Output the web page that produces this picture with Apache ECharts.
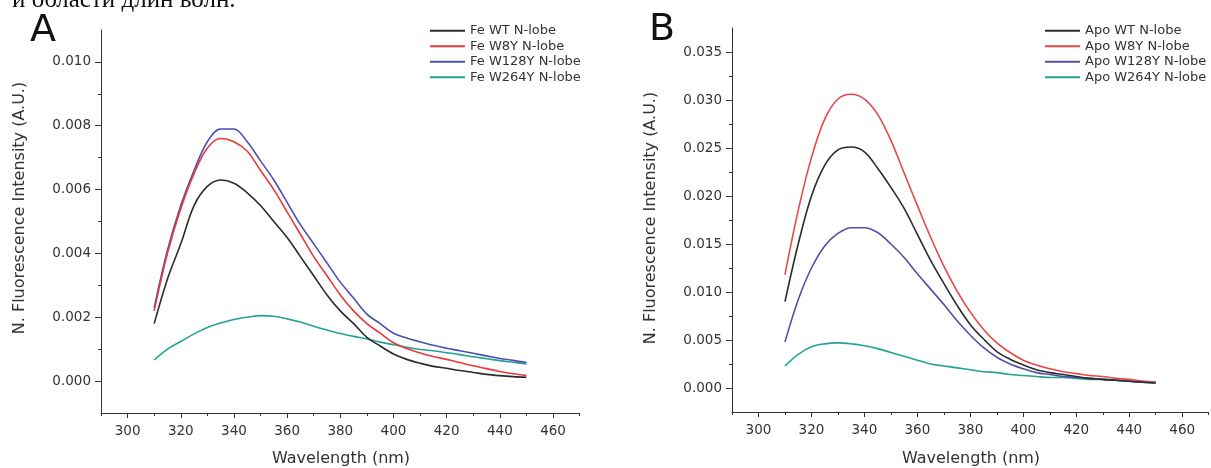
<!DOCTYPE html>
<html>
<head>
<meta charset="utf-8">
<script src="https://cdn.jsdelivr.net/npm/echarts@6/dist/echarts.min.js"></script>
<style>
html,body{margin:0;padding:0;background:#fff;}
#chart{width:1211px;height:468px;}
</style>
</head>
<body>
<div id="chart"></div>
<script>
// ---- data ----
const wavelengths = [310,315,320,325,330,335,340,345,350,355,360,365,370,375,380,385,390,395,400,405,410,415,420,425,430,435,440,445,450];

const feWT   = [0.0018,0.0032,0.0043,0.0055,0.0061,0.0063,0.0062,0.0059,0.0055,0.0050,0.0045,0.0039,0.0033,0.0027,0.0022,0.0018,0.00137,0.0011,0.00085,0.00068,0.00056,0.00046,0.0004,0.00033,0.00027,0.00021,0.00017,0.00014,0.00012];
const feW8Y  = [0.0022,0.0040,0.0054,0.0065,0.0073,0.0076,0.0075,0.0072,0.0066,0.0060,0.0053,0.0046,0.0039,0.0033,0.0027,0.0022,0.0018,0.0015,0.0012,0.00102,0.00088,0.00077,0.00068,0.00058,0.00048,0.00039,0.0003,0.00023,0.00018];
const feW128Y= [0.0023,0.0041,0.0055,0.0066,0.0075,0.0079,0.0079,0.0075,0.0069,0.0063,0.0056,0.0049,0.0043,0.0037,0.0031,0.0026,0.0021,0.0018,0.0015,0.00135,0.00123,0.00112,0.00103,0.00095,0.00087,0.00079,0.00071,0.00065,0.00058];
const feW264Y= [0.00066,0.001,0.00124,0.00148,0.00168,0.00182,0.00193,0.002,0.00205,0.00203,0.00195,0.00185,0.00172,0.0016,0.00149,0.0014,0.00132,0.00122,0.00114,0.00106,0.00099,0.00095,0.00089,0.00083,0.00076,0.0007,0.00064,0.00059,0.00054];

const apoWT   = [0.0090,0.0150,0.0200,0.0232,0.0248,0.0251,0.0246,0.0229,0.0209,0.0187,0.0160,0.0133,0.0109,0.0086,0.0066,0.0051,0.0038,0.0030,0.0024,0.0019,0.0016,0.0014,0.0012,0.0010,0.0009,0.0008,0.0007,0.0006,0.0005];
const apoW8Y  = [0.0118,0.0185,0.0240,0.0280,0.0301,0.0306,0.0301,0.0285,0.0258,0.0224,0.0190,0.0157,0.0127,0.0101,0.0079,0.0061,0.0047,0.0037,0.0029,0.0024,0.0020,0.0017,0.0015,0.0013,0.0012,0.0010,0.0009,0.0007,0.0006];
const apoW128Y= [0.0048,0.0092,0.0125,0.0148,0.0161,0.0167,0.0167,0.0162,0.0150,0.0136,0.0119,0.0103,0.0087,0.0070,0.0055,0.0042,0.0032,0.0025,0.0020,0.0016,0.0014,0.0012,0.0011,0.0010,0.0009,0.0008,0.0007,0.0006,0.0006];
const apoW264Y= [0.0023,0.0035,0.0043,0.0046,0.0047,0.0046,0.0044,0.0041,0.0037,0.0033,0.0029,0.0025,0.0023,0.0021,0.0019,0.0017,0.0016,0.0014,0.0013,0.0012,0.0011,0.0011,0.0010,0.0009,0.0009,0.0008,0.0007,0.0007,0.0006];

const namesA = ['Fe WT N-lobe','Fe W8Y N-lobe','Fe W128Y N-lobe','Fe W264Y N-lobe'];
const namesB = ['Apo WT N-lobe','Apo W8Y N-lobe','Apo W128Y N-lobe','Apo W264Y N-lobe'];

const xMajor = [300,320,340,360,380,400,420,440,460];
const xMinor = [290,310,330,350,370,390,410,430,450,470];
const yMajorA = [0,0.002,0.004,0.006,0.008,0.010];
const yMinorA = [0.001,0.003,0.005,0.007,0.009];
const yMajorB = [0,0.005,0.010,0.015,0.020,0.025,0.030,0.035];
const yMinorB = [0.0025,0.0075,0.0125,0.0175,0.0225,0.0275,0.0325];

const colorsA = ['#2b2b2b','#e8393b','#4b4fb0','#23a394'];
const colorsB = ['#2b2b2b','#e8464a','#5050a8','#23a394'];

// ---- chart ----
const FONT = 'DejaVu Sans';
const TXT = '#333';
const chart = echarts.init(document.getElementById('chart'), null, {renderer:'canvas'});

function pairs(arr){ return wavelengths.map((w,i)=>[w,arr[i]]); }

function mainX(grid){
  return {type:'value', gridIndex:grid, min:290, max:470, position:'bottom',
    axisLine:{show:true, onZero:false, lineStyle:{color:'#333',width:1}},
    axisTick:{show:true, length:5, inside:false, customValues:xMajor, lineStyle:{color:'#333'}},
    axisLabel:{show:true, customValues:xMajor, margin:11, color:TXT, fontFamily:FONT, fontSize:13.5},
    splitLine:{show:false}};
}
function minorX(grid){
  return {type:'value', gridIndex:grid, min:290, max:470, position:'bottom',
    axisLine:{show:false, onZero:false},
    axisTick:{show:true, length:3, customValues:xMinor, lineStyle:{color:'#333'}},
    axisLabel:{show:false}, splitLine:{show:false}};
}
function mainY(grid,min,max,major){
  return {type:'value', gridIndex:grid, min:min, max:max, position:'left',
    axisLine:{show:true, onZero:false, lineStyle:{color:'#333',width:1}},
    axisTick:{show:true, length:6, customValues:major, lineStyle:{color:'#333'}},
    axisLabel:{show:true, customValues:major, margin:10, color:TXT, fontFamily:FONT, fontSize:13.5,
      formatter:v=>v.toFixed(3)},
    splitLine:{show:false}};
}
function minorY(grid,min,max,minor){
  return {type:'value', gridIndex:grid, min:min, max:max, position:'left',
    axisLine:{show:false, onZero:false},
    axisTick:{show:true, length:3, customValues:minor, lineStyle:{color:'#333'}},
    axisLabel:{show:false}, splitLine:{show:false}};
}

const series = [];
[feWT,feW8Y,feW128Y,feW264Y].forEach((arr,i)=>{
  series.push({type:'line', name:namesA[i], xAxisIndex:0, yAxisIndex:0, data:pairs(arr),
    smooth:0.35, symbol:'none', lineStyle:{width:1.6, color:colorsA[i]}, itemStyle:{color:colorsA[i]},
    z:10-i});
});
[apoWT,apoW8Y,apoW128Y,apoW264Y].forEach((arr,i)=>{
  series.push({type:'line', name:namesB[i], xAxisIndex:2, yAxisIndex:2, data:pairs(arr),
    smooth:0.35, symbol:'none', lineStyle:{width:1.6, color:colorsB[i]}, itemStyle:{color:colorsB[i]},
    z:10-i});
});

const legendCommon = {orient:'vertical', itemWidth:35, itemHeight:2, itemGap:0, icon:'rect',
  textStyle:{fontFamily:FONT, fontSize:13, color:TXT, lineHeight:15.5}, padding:0,
  selectedMode:false};

const option = {
  animation:false,
  backgroundColor:'#fff',
  textStyle:{fontFamily:FONT},
  grid:[
    {left:101, top:30, width:478.6, height:383, containLabel:false},
    {left:732, top:28, width:476.7, height:384, containLabel:false}
  ],
  xAxis:[mainX(0), minorX(0), mainX(1), minorX(1)],
  yAxis:[mainY(0,-0.001,0.011,yMajorA), minorY(0,-0.001,0.011,yMinorA),
         mainY(1,-0.0025,0.0375,yMajorB), minorY(1,-0.0025,0.0375,yMinorB)],
  legend:[
    Object.assign({}, legendCommon, {left:430, top:23, data:namesA}),
    Object.assign({}, legendCommon, {left:1045, top:23, data:namesB})
  ],
  graphic:[
    {type:'text', left:12, top:-12, style:{text:'и области длин волн.', font:'25px "Liberation Serif"', fill:'#111'}},
    {type:'text', x:43, y:31.5, style:{text:'A', fontFamily:FONT, fontSize:38, fill:'#111', align:'center', verticalAlign:'middle'}},
    {type:'text', x:662, y:30, style:{text:'B', fontFamily:FONT, fontSize:38, fill:'#111', align:'center', verticalAlign:'middle'}},
    {type:'text', x:20, y:208, rotation:Math.PI/2, style:{text:'N. Fluorescence Intensity (A.U.)', fontFamily:FONT, fontSize:16, fill:TXT, align:'center', verticalAlign:'middle'}},
    {type:'text', x:651, y:218, rotation:Math.PI/2, style:{text:'N. Fluorescence Intensity (A.U.)', fontFamily:FONT, fontSize:16, fill:TXT, align:'center', verticalAlign:'middle'}},
    {type:'text', x:341, y:459, style:{text:'Wavelength (nm)', fontFamily:FONT, fontSize:16, fill:TXT, align:'center', verticalAlign:'middle'}},
    {type:'text', x:971, y:459, style:{text:'Wavelength (nm)', fontFamily:FONT, fontSize:16, fill:TXT, align:'center', verticalAlign:'middle'}}
  ],
  series:series
};
chart.setOption(option);
</script>
</body>
</html>
